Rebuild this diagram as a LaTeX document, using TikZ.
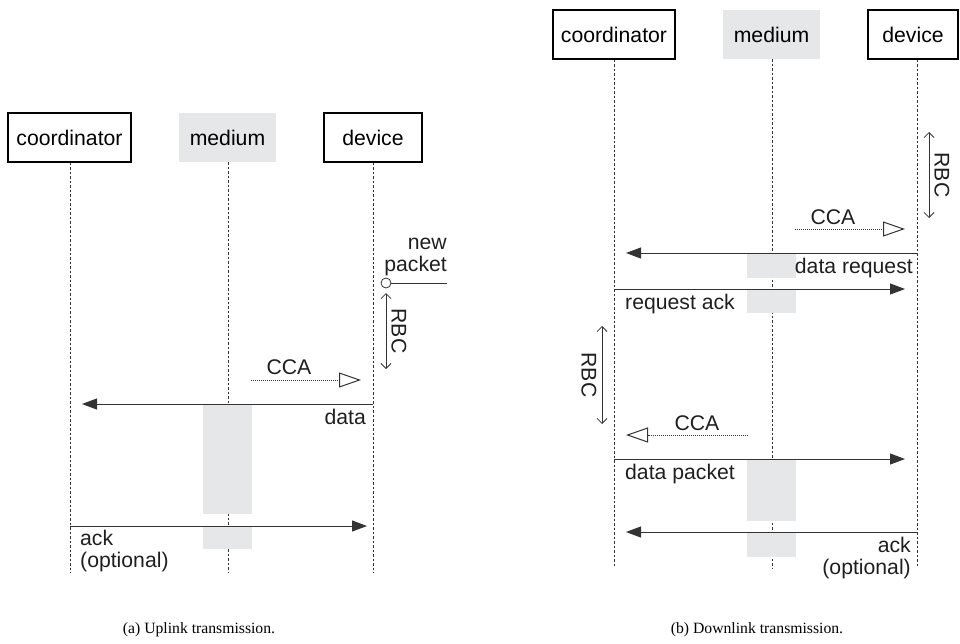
\documentclass[tikz,border=0pt]{standalone}
\usepackage{fontspec}
\setmainfont{Liberation Sans}
\newfontfamily\capfont{Liberation Serif}
\usetikzlibrary{arrows.meta}
\definecolor{medgray}{HTML}{E6E7E8}
\definecolor{ink}{HTML}{333333}
\tikzset{
  actor/.style={draw=black, line width=1.1pt, minimum height=49pt, inner sep=0pt, font=\fontsize{21.2}{24}\selectfont},
  medbox/.style={fill=medgray, minimum height=49pt, inner sep=0pt, font=\fontsize{21.2}{24}\selectfont},
  lifeline/.style={draw=ink, line width=0.7pt, dash pattern=on 2.5pt off 2pt},
  msg/.style={draw=ink, line width=1pt, -{Triangle[length=15pt,width=11pt]}},
  cca/.style={draw=ink, line width=0.8pt, dash pattern=on 1pt off 1pt, -{Triangle[open,length=22pt,width=15pt,line width=1pt,fill=white]}},
  rbc/.style={draw=ink, line width=0.8pt, {Straight Barb[length=5pt,width=10pt]}-{Straight Barb[length=5pt,width=10pt]}},
  lbl/.style={inner sep=0pt, font=\fontsize{21.2}{21.5}\selectfont, text=black!88},
  busy/.style={fill=medgray, draw=none},
  caption/.style={font=\capfont\fontsize{15.7}{18}\selectfont}
}
\begin{document}
\begin{tikzpicture}[x=1pt,y=-1pt]
\useasboundingbox (0,0) rectangle (960,643);
% ---------------- (a) uplink ----------------
\node[actor, minimum width=123pt] (ca) at (69.5,137.5) {coordinator};
\node[medbox, minimum width=97pt] (ma) at (227.5,137.5) {medium};
\node[actor, minimum width=98pt] (da) at (373,137.5) {device};
\coordinate (caE) at (70,573);
\coordinate (maE) at (228,573);
\coordinate (daE) at (373,573);
\draw[lifeline] (ca.south -| caE) -- (caE);
\draw[lifeline] (ma.south -| maE) -- (maE);
\draw[lifeline] (da.south -| daE) -- (daE);
% busy medium
\fill[busy] (203,404.5) rectangle (252,514);
\fill[busy] (203,527) rectangle (252,549);
% new packet
\node[lbl, anchor=south east, align=right] (np) at (447,276) {new\\packet};
\node[draw=ink, fill=white, circle, line width=0.8pt, inner sep=0pt, minimum size=10pt] (npc) at (386,283) {};
\coordinate (npR) at (447,283);
\draw[ink, line width=1pt] (npc) -- (npR);
% RBC
\coordinate (rbcAt) at (386,293);
\coordinate (rbcAb) at (386,369);
\draw[rbc] (rbcAt) -- (rbcAb);
\node[lbl, rotate=-90] (rbcA) at (399,331) {RBC};
% CCA
\coordinate (ccaAs) at (251,380);
\coordinate (ccaAe) at (361,380);
\draw[cca] (ccaAs) -- (ccaAe);
\node[lbl] (ccaA) at (289,367) {CCA};
% data
\coordinate (dataS) at (373,404);
\coordinate (dataE) at (82,404);
\draw[msg] (dataS) -- (dataE);
\node[lbl, anchor=north east] (dataL) at (366,409) {data};
% ack
\coordinate (ackS) at (70,526);
\coordinate (ackE) at (367,526);
\draw[msg] (ackS) -- (ackE);
\node[lbl, anchor=north west, align=left] (ackL) at (80,530) {ack\\(optional)};
\node[caption] (capa) at (199,630) {(a) Uplink transmission.};
% ---------------- (b) downlink ----------------
\node[actor, minimum width=122pt] (cb) at (614,34.5) {coordinator};
\node[medbox, minimum width=97pt] (mb) at (771.5,34.5) {medium};
\node[actor, minimum width=90pt] (db) at (913,34.5) {device};
\coordinate (cbE) at (614,568);
\coordinate (mbE) at (772,568);
\coordinate (dbE) at (917,568);
\draw[lifeline] (cb.south -| cbE) -- (cbE);
\draw[lifeline] (mb.south -| mbE) -- (mbE);
\draw[lifeline] (db.south -| dbE) -- (dbE);
% busy medium
\fill[busy] (747,253.5) rectangle (796,278);
\fill[busy] (747,289.5) rectangle (796,313);
\fill[busy] (747,460) rectangle (796,521);
\fill[busy] (747,532.5) rectangle (796,557);
% RBC device
\coordinate (rbcBt) at (929,132);
\coordinate (rbcBb) at (929,218);
\draw[rbc] (rbcBt) -- (rbcBb);
\node[lbl, rotate=-90] (rbcB) at (942,175) {RBC};
% CCA device
\coordinate (ccaBs) at (795,229);
\coordinate (ccaBe) at (905,229);
\draw[cca] (ccaBs) -- (ccaBe);
\node[lbl] (ccaB) at (833,217) {CCA};
% data request
\coordinate (drS) at (917,253);
\coordinate (drE) at (626,253);
\draw[msg] (drS) -- (drE);
\node[lbl, anchor=north east] (drL) at (913,258) {data request};
% request ack
\coordinate (raS) at (614,289);
\coordinate (raE) at (905,289);
\draw[msg] (raS) -- (raE);
\node[lbl, anchor=north west] (raL) at (625,294) {request ack};
% RBC coordinator
\coordinate (rbcCt) at (602,326);
\coordinate (rbcCb) at (602,424);
\draw[rbc] (rbcCt) -- (rbcCb);
\node[lbl, rotate=-90] (rbcC) at (589,375) {RBC};
% CCA coordinator
\coordinate (ccaCs) at (748,435);
\coordinate (ccaCe) at (626,435);
\draw[cca] (ccaCs) -- (ccaCe);
\node[lbl] (ccaC) at (697,423) {CCA};
% data packet
\coordinate (dpS) at (614,459);
\coordinate (dpE) at (905,459);
\draw[msg] (dpS) -- (dpE);
\node[lbl, anchor=north west] (dpL) at (625,464) {data packet};
% ack
\coordinate (ackbS) at (917,532);
\coordinate (ackbE) at (626,532);
\draw[msg] (ackbS) -- (ackbE);
\node[lbl, anchor=north east, align=right] (ackbL) at (911,537) {ack\\(optional)};
\node[caption] (capb) at (757,630) {(b) Downlink transmission.};
\end{tikzpicture}
\end{document}
